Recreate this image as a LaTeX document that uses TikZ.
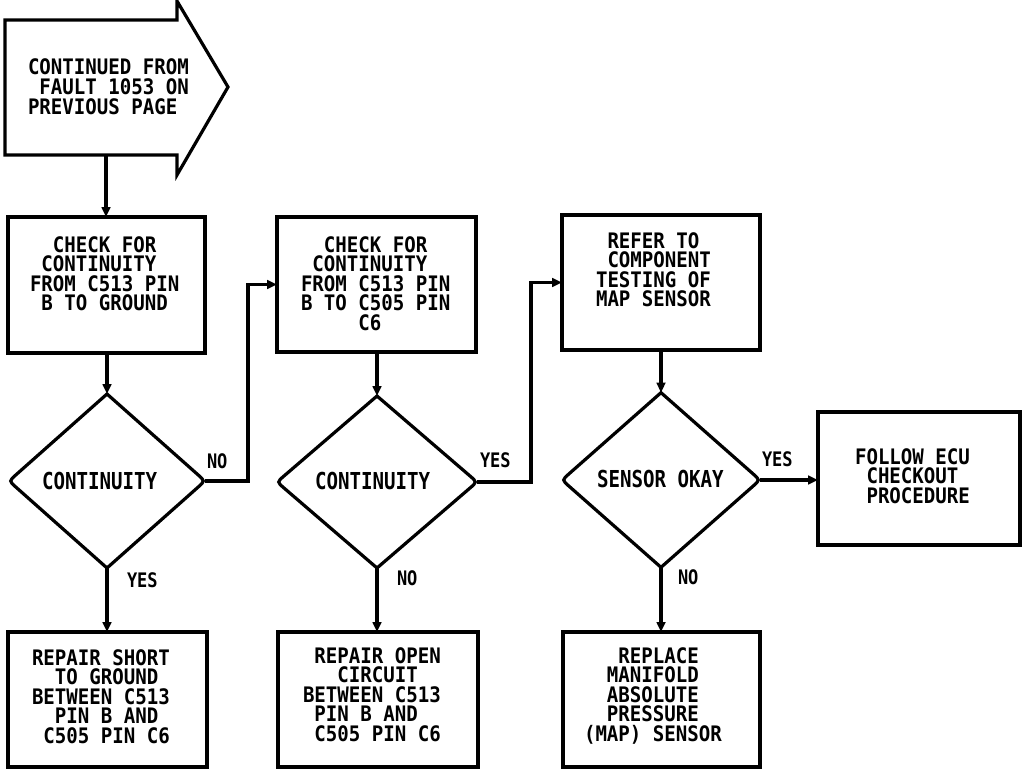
\documentclass[tikz,border=0pt]{standalone}
\usepackage{fontspec}
\usetikzlibrary{arrows.meta,shapes.geometric,fit,calc}
\newfontfamily\boxfam[FakeStretch=0.895]{DejaVu Sans Mono}
\newfontfamily\diafam[FakeStretch=0.82]{DejaVu Sans Mono}
\newfontfamily\labfam[FakeStretch=0.85]{DejaVu Sans Mono}
\newcommand\boxfont{\boxfam\bfseries\fontsize{16pt}{16pt}\selectfont}
\newcommand\diafont{\diafam\bfseries\fontsize{17.5pt}{17.5pt}\selectfont}
\newcommand\labfont{\labfam\bfseries\fontsize{15pt}{15pt}\selectfont}
\tikzset{
  ln/.style={line width=2.4pt, line join=miter},
  box/.style={draw, line width=2.4pt, rectangle, inner sep=0pt, outer sep=0pt},
  dia/.style={shape=diamond, draw=none, inner sep=0pt, outer sep=0pt},
  arr/.style={line width=2.4pt, -{Triangle[length=7.5pt,width=6.5pt]}},
  txt/.style={font=\boxfont, anchor=base west, inner sep=0pt, outer sep=0pt},
  dtxt/.style={font=\diafont, anchor=base west, inner sep=0pt, outer sep=0pt},
  lab/.style={font=\labfont, anchor=base west, inner sep=0pt, outer sep=0pt}
}
\newcommand\tlines[4]{%
  \foreach \t [count=\i] in {#4} {\node[txt] (#1\i) at (#2, {#3+19.6*(\i-1)}) {\t};}}
\newcommand\rdia[1]{%
  \draw[ln] (#1.north) -- ($(#1.east)!7pt!(#1.north)$) .. controls (#1.east) .. ($(#1.east)!7pt!(#1.south)$)
    -- (#1.south) -- ($(#1.west)!7pt!(#1.south)$) .. controls (#1.west) .. ($(#1.west)!7pt!(#1.north)$) -- cycle;}
\begin{document}
\begin{tikzpicture}[x=0.75pt,y=-0.75pt]
\useasboundingbox (0,0) rectangle (1024,770);
% start arrow shape
\draw[ln] (5,20) -- (177,20) -- (177,1) -- (228,87) -- (177,175) -- (177,155) -- (5,155) -- cycle;
\coordinate (start) at (106,155);
\tlines{s}{28}{75}{{CONTINUED FROM},{\ FAULT 1053 ON},{PREVIOUS PAGE}}
% boxes
\node[box, fit={(8,217) (205,353)}] (b1) {};
\node[box, fit={(277,217) (476,352)}] (b2) {};
\node[box, fit={(562,215) (760,350)}] (b3) {};
\node[box, fit={(818,412) (1020,545)}] (b4) {};
\node[box, fit={(8,632) (207,767)}] (b5) {};
\node[box, fit={(278,632) (478,767)}] (b6) {};
\node[box, fit={(563,632) (760,767)}] (b7) {};
% diamonds
\node[dia, minimum width=147pt, minimum height=130.5pt] (d1) at (107,481) {};
\node[dia, minimum width=150pt, minimum height=129pt] (d2) at (377,482) {};
\node[dia, minimum width=148.5pt, minimum height=131pt] (d3) at (661,480) {};
\rdia{d1}\rdia{d2}\rdia{d3}
\node[dtxt] (d1t) at (42,489) {CONTINUITY};
\node[dtxt] (d2t) at (315,489) {CONTINUITY};
\node[dtxt] (d3t) at (597,487) {SENSOR OKAY};
% box texts
\tlines{bo}{30}{252}{{\ \ CHECK FOR},{\ CONTINUITY},{FROM C513 PIN},{\ B TO GROUND}}
\tlines{bt}{301}{252}{{\ \ CHECK FOR},{\ CONTINUITY},{FROM C513 PIN},{B TO C505 PIN},{\ \ \ \ \ C6}}
\tlines{bh}{596}{248}{{\ REFER TO},{\ COMPONENT},{TESTING OF},{MAP SENSOR}}
\tlines{bf}{855}{464}{{FOLLOW ECU},{\ CHECKOUT},{\ PROCEDURE}}
\tlines{bv}{32}{665}{{REPAIR SHORT},{\ \ TO GROUND},{BETWEEN C513},{\ \ PIN B AND},{\ C505 PIN C6}}
\tlines{bx}{303}{663}{{\ REPAIR OPEN},{\ \ \ CIRCUIT},{BETWEEN C513},{\ PIN B AND},{\ C505 PIN C6}}
\tlines{bs}{584}{663}{{\ \ \ REPLACE},{\ \ MANIFOLD},{\ \ ABSOLUTE},{\ \ PRESSURE},{(MAP) SENSOR}}
% connectors
\draw[arr] (start) -- (start |- b1.north);
\draw[arr] (d1.north |- b1.south) -- (d1.north);
\draw[arr] (d1.south) -- (d1.south |- b5.north);
\draw[arr] (d1.east) -- ++(43,0) |- (b2.west);
\draw[arr] (d2.north |- b2.south) -- (d2.north);
\draw[arr] (d2.south) -- (d2.south |- b6.north);
\draw[arr] (d2.east) -- ++(54,0) |- (b3.west);
\draw[arr] (d3.north |- b3.south) -- (d3.north);
\draw[arr] (d3.south) -- (d3.south |- b7.north);
\draw[arr] (d3.east) -- (d3.east -| b4.west);
% labels
\node[lab] (l1) at (207,468) {NO};
\node[lab] (l2) at (127,587) {YES};
\node[lab] (l3) at (480,467) {YES};
\node[lab] (l4) at (397,585) {NO};
\node[lab] (l5) at (762,466) {YES};
\node[lab] (l6) at (678,584) {NO};
\end{tikzpicture}
\end{document}
